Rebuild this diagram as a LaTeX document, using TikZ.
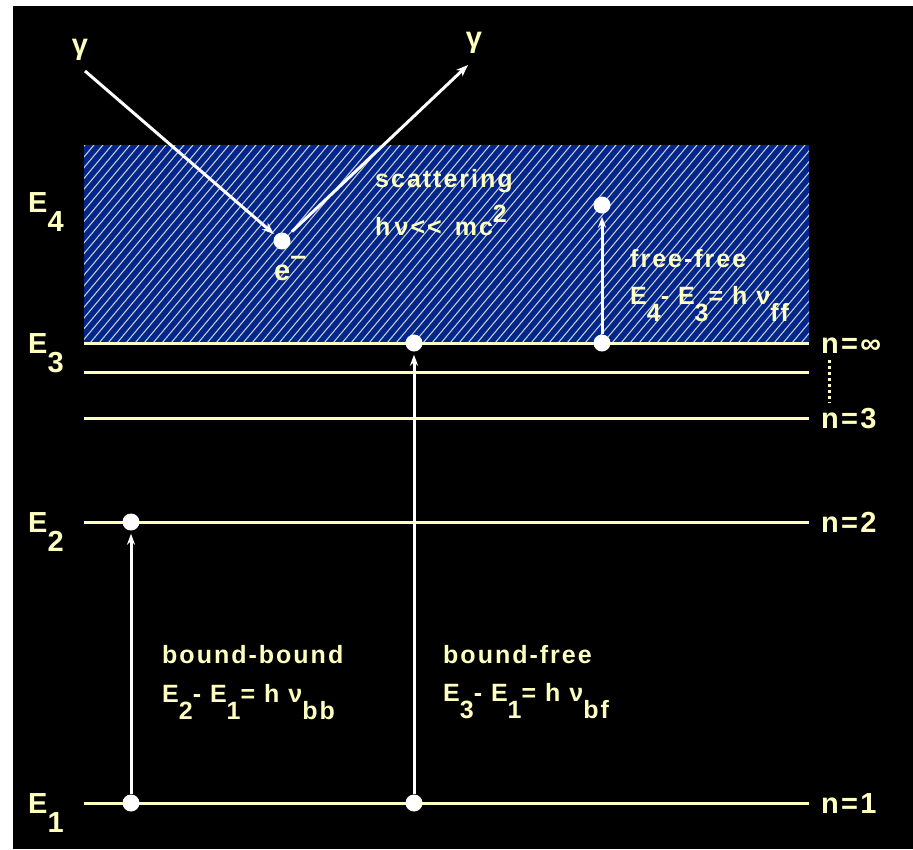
\documentclass[tikz,border=0pt]{standalone}
\usepackage{fontspec}
\setmainfont[LetterSpace=8]{Liberation Sans}
\usetikzlibrary{arrows.meta}
\definecolor{cream}{RGB}{255,255,192}
\definecolor{bandblue}{RGB}{0,38,140}
\definecolor{hatchc}{RGB}{200,200,205}
\newcommand\lowsub[1]{\raisebox{-0.68em}{#1}}
\newcommand\upsup[1]{\raisebox{0.5em}{#1}}
\tikzset{
  txt/.style={text=cream, font=\fontsize{25}{28}\selectfont\bfseries, inner sep=0pt, anchor=base west},
  nlab/.style={text=cream, font=\fontsize{29}{30}\selectfont\bfseries, inner sep=0pt, anchor=base west},
  elab/.style={text=cream, font=\fontsize{29}{32}\selectfont\bfseries, inner sep=0pt, anchor=base west},
  level/.style={draw=cream, line width=3pt},
  dot/.style={circle, fill=white, draw=none, minimum size=17pt, inner sep=0pt},
  varrow/.style={draw=white, line width=3pt, -{Stealth[length=11pt,width=8pt]}, shorten >=3pt},
  garrow/.style={draw=white, line width=3pt, -{Stealth[length=12pt,width=9pt]}},
  hatch/.style={draw=hatchc, line width=1.1pt}
}
\begin{document}
\begin{tikzpicture}[x=1pt,y=-1pt]
\useasboundingbox (0,0) rectangle (913,849);
\fill[white] (0,0) rectangle (913,849);
\fill[black] (13,6) rectangle (913,849);
% continuum band
\fill[bandblue] (84,145) rectangle (809,343);
\begin{scope}
  \clip (84,145) rectangle (809,343);
  \foreach \x in {-90,-81,...,810} \draw[hatch] (\x,343) -- ++(166,-198);
\end{scope}
% levels
\draw[level] (84,343) -- (809,343);
\draw[level] (84,372) -- (809,372);
\draw[level] (84,418) -- (809,418);
\draw[level] (84,522) -- (809,522);
\draw[level] (84,803) -- (809,803);
% left labels
\node[elab] (E4) at (28,212) {E\lowsub{4}};
\node[elab] (E3) at (28,353) {E\lowsub{3}};
\node[elab] (E2) at (28,532) {E\lowsub{2}};
\node[elab] (E1) at (28,813) {E\lowsub{1}};
% right labels
\node[nlab] (ninf) at (821,353) {n=∞};
\node[nlab] (n3) at (821,428) {n=3};
\node[nlab] (n2) at (821,532) {n=2};
\node[nlab] (n1) at (821,813) {n=1};
\coordinate (dtop) at (829,360);
\coordinate (dbot) at (829,403);
\draw[cream, line width=3pt, dash pattern=on 3pt off 3pt] (dtop) -- (dbot);
% dots
\node[dot] (b1) at (131,803) {};
\node[dot] (b2) at (131,522) {};
\node[dot] (f1) at (414,803) {};
\node[dot] (f2) at (414,343) {};
\node[dot] (ff1) at (602,343) {};
\node[dot] (ff2) at (602,205) {};
\node[dot] (el) at (282,241) {};
% transitions
\draw[varrow] (b1) -- (b2);
\draw[varrow] (f1) -- (f2);
\draw[varrow] (ff1) -- (ff2);
% scattering
\node[text=cream, font=\fontsize{29}{30}\selectfont\bfseries, inner sep=0pt] (g1) at (80,50) {γ};
\node[text=cream, font=\fontsize{29}{30}\selectfont\bfseries, inner sep=0pt] (g2) at (474,43) {γ};
\coordinate (gs) at (85,71);
\coordinate (ge) at (468,65);
\draw[garrow, shorten >=2pt] (gs) -- (el);
\draw[garrow, shorten <=5pt] (el) -- (ge);
\node[txt, font=\fontsize{29}{30}\selectfont\bfseries] (elab) at (274,280) {e\upsup{–}};
\node[txt] (scat) at (375,187) {scattering};
\node[txt] (scat2) at (375,235) {h\,ν<{}<\, mc\upsup{2}};
% free-free
\node[txt] (fflab) at (630,267) {free-free};
\node[txt] (ffeq) at (630,304) {E\lowsub{4}- E\lowsub{3}= h ν\lowsub{ff}};
% bound-bound
\node[txt] (bblab) at (162,663) {bound-bound};
\node[txt] (bbeq) at (162,702) {E\lowsub{2}- E\lowsub{1}= h ν\lowsub{bb}};
% bound-free
\node[txt] (bflab) at (443,663) {bound-free};
\node[txt] (bfeq) at (443,701) {E\lowsub{3}- E\lowsub{1}= h ν\lowsub{bf}};
\end{tikzpicture}
\end{document}
